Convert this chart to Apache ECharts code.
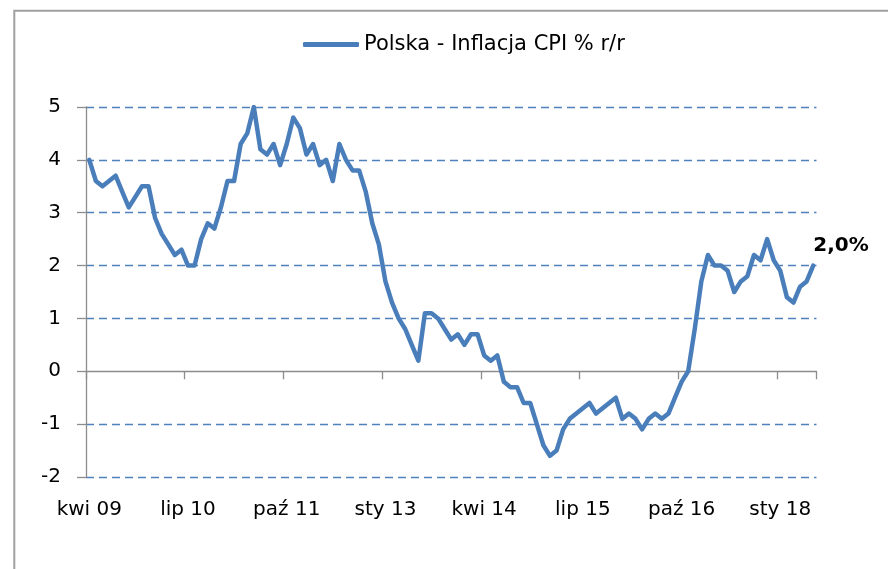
<!DOCTYPE html>
<html>
<head>
<meta charset="utf-8">
<script src="https://cdn.jsdelivr.net/npm/echarts@6/dist/echarts.min.js"></script>
<style>
html,body{margin:0;padding:0;background:#fff;}
#chart{width:888px;height:569px;}
</style>
</head>
<body>
<div id="chart"></div>
<script>
// Polish month abbreviations, series starts at April 2009
const monthNames = ['sty','lut','mar','kwi','maj','cze','lip','sie','wrz','paź','lis','gru'];
const startYear = 2009;
const startMonth = 3; // April (0-based)
const seriesName = 'Polska - Inflacja CPI % r/r';

// CPI y/y, Apr 2009 - Jun 2018
const cpi2009 = [4.0, 3.6, 3.5, 3.6, 3.7, 3.4, 3.1, 3.3, 3.5];
const cpi2010 = [3.5, 2.9, 2.6, 2.4, 2.2, 2.3, 2.0, 2.0, 2.5, 2.8, 2.7, 3.1];
const cpi2011 = [3.6, 3.6, 4.3, 4.5, 5.0, 4.2, 4.1, 4.3, 3.9, 4.3, 4.8, 4.6];
const cpi2012 = [4.1, 4.3, 3.9, 4.0, 3.6, 4.3, 4.0, 3.8, 3.8, 3.4, 2.8, 2.4];
const cpi2013 = [1.7, 1.3, 1.0, 0.8, 0.5, 0.2, 1.1, 1.1, 1.0, 0.8, 0.6, 0.7];
const cpi2014 = [0.5, 0.7, 0.7, 0.3, 0.2, 0.3, -0.2, -0.3, -0.3, -0.6, -0.6, -1.0];
const cpi2015 = [-1.4, -1.6, -1.5, -1.1, -0.9, -0.8, -0.7, -0.6, -0.8, -0.7, -0.6, -0.5];
const cpi2016 = [-0.9, -0.8, -0.9, -1.1, -0.9, -0.8, -0.9, -0.8, -0.5, -0.2, 0.0, 0.8];
const cpi2017 = [1.7, 2.2, 2.0, 2.0, 1.9, 1.5, 1.7, 1.8, 2.2, 2.1, 2.5, 2.1];
const cpi2018 = [1.9, 1.4, 1.3, 1.6, 1.7, 2.0];

const values = [].concat(cpi2009, cpi2010, cpi2011, cpi2012, cpi2013, cpi2014, cpi2015, cpi2016, cpi2017, cpi2018);

const categories = values.map(function (v, i) {
  const m = startMonth + i;
  const y = startYear + Math.floor(m / 12);
  return monthNames[m % 12] + ' ' + String(y % 100).padStart(2, '0');
});

const yMin = -2, yMax = 5, yStep = 1;
const labelEvery = 15;

const blue = '#4A7EBB';
const gridBlue = '#4F81BD';
const axisGray = '#8C8C8C';
const font = 'DejaVu Sans';

const lastIdx = values.length - 1;
const lastLabel = values[lastIdx].toFixed(1).replace('.', ',') + '%';

const chart = echarts.init(document.getElementById('chart'), null, {renderer: 'canvas'});

// split line colours: hide the dashed line at 0 (the axis line is drawn there)
const splitColors = [];
for (let v = yMin; v <= yMax; v += yStep) {
  splitColors.push(v === 0 ? 'rgba(0,0,0,0)' : gridBlue);
}

chart.setOption({
  animation: false,
  backgroundColor: '#fff',
  graphic: [{
    type: 'rect',
    shape: {x: 14.3, y: 10.7, width: 1000, height: 1000},
    style: {fill: 'none', stroke: '#A0A0A0', lineWidth: 2},
    silent: true,
    z: -1
  }],
  legend: {
    left: 303,
    top: 34,
    padding: 0,
    itemWidth: 56,
    itemHeight: 5,
    itemGap: 5,
    data: [{name: seriesName, icon: 'roundRect'}],
    textStyle: {fontFamily: font, fontSize: 21, color: '#000'}
  },
  grid: {left: 86, top: 107, width: 730.5, height: 370, containLabel: false},
  xAxis: [{
    type: 'category',
    data: categories,
    boundaryGap: true,
    position: 'bottom',
    axisLine: {show: true, onZero: true, lineStyle: {color: axisGray, width: 1.3}},
    axisTick: {show: true, interval: labelEvery - 1, length: 8, lineStyle: {color: axisGray, width: 1.3}},
    axisLabel: {show: false, interval: labelEvery - 1},
    splitLine: {show: false}
  }, {
    type: 'category',
    data: categories,
    boundaryGap: true,
    position: 'bottom',
    axisLine: {show: false, onZero: false},
    axisTick: {show: false},
    axisLabel: {show: true, interval: labelEvery - 1, margin: 23, fontFamily: font, fontSize: 20, color: '#000'},
    splitLine: {show: false}
  }],
  yAxis: {
    type: 'value',
    min: yMin,
    max: yMax,
    interval: yStep,
    axisLine: {show: true, onZero: false, lineStyle: {color: axisGray, width: 1.3}},
    axisTick: {show: true, length: 9, lineStyle: {color: axisGray, width: 1.3}},
    axisLabel: {margin: 25, fontFamily: font, fontSize: 20, color: '#000'},
    splitLine: {show: true, lineStyle: {color: splitColors, width: 1.3, type: [8, 5]}}
  },
  series: [{
    name: seriesName,
    type: 'line',
    xAxisIndex: 0,
    data: values,
    showSymbol: false,
    symbol: 'none',
    color: blue,
    lineStyle: {color: blue, width: 4.5, join: 'round', cap: 'round'},
    markPoint: {
      symbol: 'circle',
      symbolSize: 0.1,
      itemStyle: {color: 'rgba(0,0,0,0)'},
      data: [{coord: [categories[lastIdx], values[lastIdx]], value: values[lastIdx]}],
      label: {
        show: true,
        position: 'right',
        distance: 0,
        offset: [0, -20],
        formatter: lastLabel,
        fontFamily: font,
        fontSize: 20,
        fontWeight: 'bold',
        color: '#000'
      }
    }
  }]
});
</script>
</body>
</html>
